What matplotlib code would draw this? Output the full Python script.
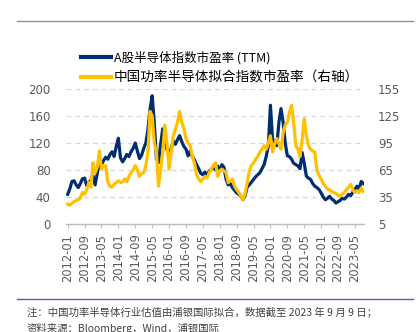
import numpy as np
import pandas as pd
import matplotlib
matplotlib.use("Agg")
import matplotlib.pyplot as plt
from matplotlib.lines import Line2D

plt.rcParams['font.family'] = ['DejaVu Sans', 'Noto Sans CJK SC']

# monthly readings, 2012-01 .. 2023-09
months = pd.date_range('2012-01-01', periods=141, freq='MS')

# A股半导体指数市盈率 (TTM), left axis
pe_a = [44, 52, 63, 64, 58, 54, 60, 67, 68, 57, 61, 65, 71, 58, 75, 90, 88, 94, 99, 96,
        103, 107, 100, 115, 127, 98, 92, 97, 103, 100, 107, 112, 120, 108, 97, 102, 112, 120, 140, 170,
        190, 150, 97, 91, 118, 141, 125, 110, 103, 112, 123, 118, 125, 131, 122, 115, 111, 101, 108, 100,
        95, 88, 82, 75, 73, 77, 72, 78, 81, 84, 80, 86, 79, 88, 84, 66, 58, 60, 54, 50,
        46, 44, 41, 36, 42, 55, 58, 62, 66, 70, 73, 76, 82, 88, 100, 116, 176, 126, 120, 116,
        150, 171, 151, 120, 101, 100, 96, 90, 88, 86, 82, 106, 90, 71, 68, 66, 60, 56, 54, 51,
        46, 40, 36, 38, 41, 37, 35, 31, 33, 35, 38, 37, 40, 44, 42, 47, 51, 56, 52, 63, 60]

# 中国功率半导体拟合指数市盈率, right axis
pe_power = [27, 26, 28, 30, 31, 32, 34, 40, 38, 43, 51, 46, 73, 62, 68, 86, 66, 70, 70, 52,
            47, 46, 49, 51, 53, 51, 52, 55, 52, 58, 62, 65, 70, 65, 58, 61, 62, 70, 85, 130,
            125, 95, 85, 47, 65, 85, 115, 95, 66, 85, 103, 110, 118, 130, 118, 111, 100, 95, 92, 80,
            73, 60, 55, 52, 55, 58, 56, 62, 66, 70, 73, 58, 64, 66, 64, 62, 51, 53, 55, 47,
            43, 40, 36, 32, 39, 51, 64, 70, 73, 77, 80, 85, 88, 92, 88, 95, 103, 85, 94, 100,
            94, 88, 106, 115, 118, 129, 137, 118, 92, 88, 80, 99, 122, 103, 92, 88, 86, 85, 65, 59,
            55, 50, 47, 44, 43, 41, 40, 39, 37, 36, 38, 40, 43, 46, 49, 43, 40, 42, 40, 45, 41]

left_ticks = [0, 40, 80, 120, 160, 200]
right_ticks = [5, 35, 65, 95, 125, 155]
tick_idx = list(range(0, 141, 8))
tick_labels = [months[i].strftime('%Y-%m') for i in tick_idx]

navy = '#002D72'
gold = '#FFC000'
grey = '#595959'

fig = plt.figure(figsize=(4.16, 3.32), dpi=100)
ax = fig.add_axes([66/416, 1-224/332, (364-66)/416, (224-89)/332])
ax2 = ax.twinx()

x = np.arange(len(months))
ax.plot(x, pe_a, color=navy, lw=2.3, zorder=3)
ax2.plot(x, pe_power, color=gold, lw=2.3, zorder=3)

ax.set_ylim(0, 200)
ax2.set_ylim(5, 155)
ax.set_xlim(-0.8, 140.3)
ax.set_yticks(left_ticks)
ax2.set_yticks(right_ticks)
ax.set_xticks(tick_idx)
ax.set_xticklabels(tick_labels, rotation=90)

for g in left_ticks[1:]:
    ax.axhline(g, color='#D9D9D9', lw=0.9, ls=(0, (4, 3)), zorder=1)

for a in (ax, ax2):
    for s in ('left', 'right', 'top'):
        a.spines[s].set_visible(False)
    a.spines['bottom'].set_color('#BFBFBF')
    a.spines['bottom'].set_linewidth(0.9)
ax.tick_params(axis='y', length=0, pad=11, labelsize=8.5, labelcolor=grey)
ax2.tick_params(axis='y', length=0, pad=10, labelsize=8.5, labelcolor=grey)
ax.tick_params(axis='x', length=3, width=0.8, color='#BFBFBF', pad=4, labelsize=8.3, labelcolor=grey)

handles = [Line2D([], [], color=navy, lw=3), Line2D([], [], color=gold, lw=3)]
labels = ['A股半导体指数市盈率 (TTM)', '中国功率半导体拟合指数市盈率（右轴）']
leg = fig.legend(handles, labels, loc='upper left', bbox_to_anchor=(70/416, 1-40/332),
                 frameon=False, handlelength=2.4, handletextpad=0.2, labelspacing=0.45,
                 prop={'family': ['Noto Sans CJK SC', 'DejaVu Sans'], 'size': 9})
leg.get_texts()[1].set_fontsize(9.8)

fig.add_artist(Line2D([17/416, 413/416], [1-21/332, 1-21/332], color='#8A8AB8', lw=1))
fig.add_artist(Line2D([17/416, 413/416], [1-299/332, 1-299/332], color='#5A5AA0', lw=1))

cjk = ['Noto Sans CJK SC', 'DejaVu Sans']
fig.text(27/416, 1-312/332, '注：中国功率半导体行业估值由浦银国际拟合，数据截至 2023 年 9 月 9 日；',
         family=cjk, fontsize=7.5, color='#404040', va='center')
fig.text(27/416, 1-328/332, '资料来源：Bloomberg，Wind，浦银国际',
         family=cjk, fontsize=7.5, color='#404040', va='center')

fig.savefig('out.png', dpi=100)
